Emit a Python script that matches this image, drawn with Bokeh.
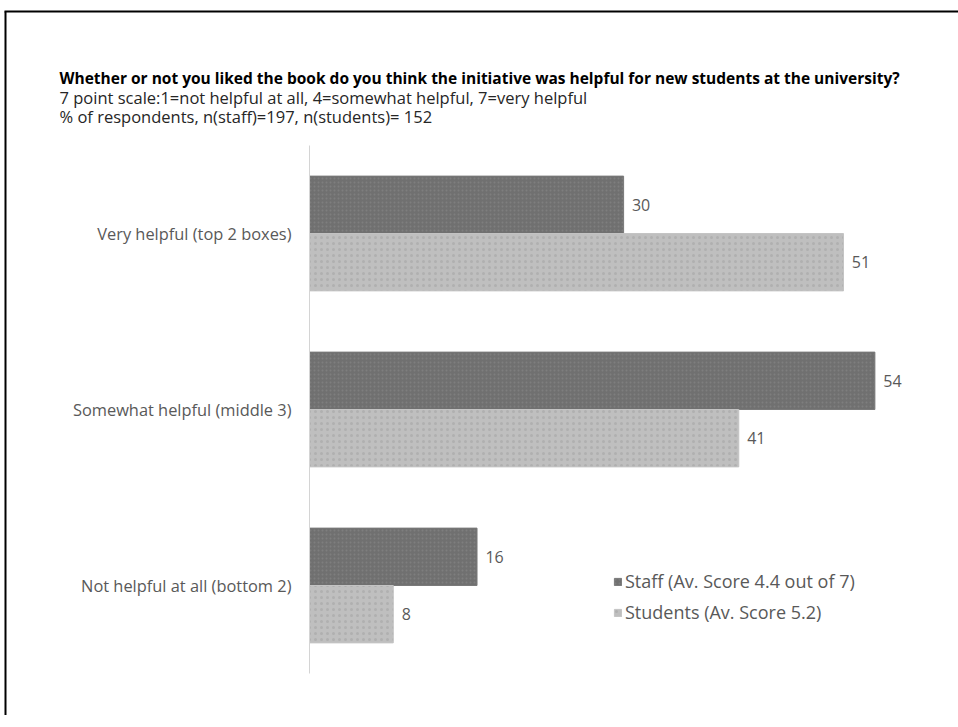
from bokeh.plotting import figure
from bokeh.models import ColumnDataSource, Range1d, Label, Legend, LegendItem
from bokeh.core.properties import value
from bokeh.embed import file_html
from bokeh.resources import INLINE

# ---- data ----
categories = ["Very helpful (top 2 boxes)", "Somewhat helpful (middle 3)", "Not helpful at all (bottom 2)"]
staff = [30, 54, 16]
students = [51, 41, 8]
series_names = ["Staff (Av. Score 4.4 out of 7)", "Students (Av. Score 5.2)"]
title_lines = [
    "Whether or not you liked the book do you think the initiative was helpful for new students at the university?",
    "7 point scale:1=not helpful at all, 4=somewhat helpful, 7=very helpful",
    "% of  respondents, n(staff)=197, n(students)= 152",
]

# ---- layout mapping (page pixels -> data units) ----
W, H = 958, 715
ORIG = 0
PPU = 10.47          # pixels per percent
X0_PAGE = 309        # page x of value 0
BAND = 176           # pixels per category band
TOP_PAGE = 145       # page y of top of category bands
n = len(categories)

x_start = -(X0_PAGE - ORIG) / PPU
x_end = x_start + W / PPU
y_end = n + (TOP_PAGE - ORIG) / BAND
y_start = y_end - H / BAND

def px(page_x):
    return x_start + (page_x - ORIG) / PPU

def py(page_y):
    return y_end - (page_y - ORIG) / BAND

p = figure(width=W, height=H, output_backend="svg", toolbar_location=None,
           x_range=Range1d(x_start, x_end), y_range=Range1d(y_start, y_end),
           min_border=0, min_border_left=0, min_border_right=0,
           min_border_top=0, min_border_bottom=0)
p.axis.visible = False
p.grid.visible = False
p.outline_line_color = None
p.background_fill_color = "white"
p.border_fill_color = "white"

centers = [n - i - 0.5 for i in range(n)]
OFF = 0.163
BH = 0.326
src = ColumnDataSource(dict(
    cat=categories,
    staff=staff,
    students=students,
    y_staff=[c + OFF for c in centers],
    y_students=[c - OFF for c in centers],
    lx_staff=[v + 0.8 for v in staff],
    lx_students=[v + 0.8 for v in students],
    t_staff=[str(v) for v in staff],
    t_students=[str(v) for v in students],
    cy=centers,
))

r_staff = p.hbar(y="y_staff", left=0, right="staff", height=BH, source=src,
                 fill_color="#707070", line_color="#7a7a7a", line_width=1,
                 hatch_pattern="dot", hatch_color="#7e7e7e", hatch_scale=4, hatch_weight=1)
r_students = p.hbar(y="y_students", left=0, right="students", height=BH, source=src,
                    fill_color="#bfbfbf", line_color="#c4c4c4", line_width=1,
                    hatch_pattern="dot", hatch_color="#b0b0b0", hatch_scale=6, hatch_weight=1)

# axis line
p.segment(x0=0, y0=0, x1=0, y1=n, line_color="#d4d4d4", line_width=1)

# value labels
for xcol, ycol, tcol in [("lx_staff", "y_staff", "t_staff"), ("lx_students", "y_students", "t_students")]:
    p.text(x=xcol, y=ycol, text=tcol, source=src, text_font=value("Open Sans"),
           text_font_size="16px", text_color="#595959", text_baseline="middle", text_align="left")

# category labels
p.text(x=px(291), y="cy", text="cat", source=src, text_font=value("Open Sans"),
       text_font_size="16.4px", text_color="#595959", text_baseline="middle", text_align="right")

# titles
p.add_layout(Label(x=px(59), y=py(77), text=title_lines[0], text_font="Open Sans", text_font_style="bold",
                   text_font_size="15.5px", text_color="#000000", text_baseline="middle"))
p.add_layout(Label(x=px(59), y=py(97), text=title_lines[1], text_font="Open Sans",
                   text_font_size="16.5px", text_color="#262626", text_baseline="middle"))
p.add_layout(Label(x=px(59), y=py(116), text=title_lines[2], text_font="Open Sans",
                   text_font_size="16.5px", text_color="#262626", text_baseline="middle"))

# chart frame (left and top edges)
p.segment(x0=[px(5), px(4)], y0=[y_start, py(11)], x1=[px(5), x_end], y1=[py(11), py(11)],
          line_color="black", line_width=2)

legend = Legend(items=[LegendItem(label=series_names[0], renderers=[r_staff]),
                       LegendItem(label=series_names[1], renderers=[r_students])],
                location=(613 - ORIG, H - (624 - ORIG)), orientation="vertical",
                glyph_width=9, glyph_height=9, label_standoff=3, spacing=7,
                label_height=22, padding=0, margin=0,
                border_line_color=None, background_fill_alpha=0,
                label_text_font="Open Sans", label_text_font_size="18px",
                label_text_color="#595959")
p.add_layout(legend)

open("out.html", "w").write(file_html(p, INLINE))
